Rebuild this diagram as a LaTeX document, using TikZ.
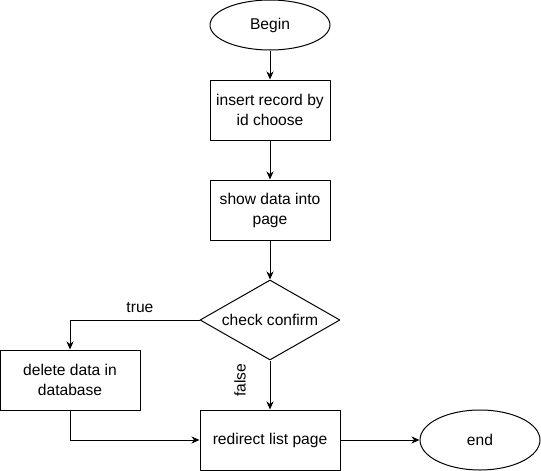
\documentclass[tikz,border=0pt]{standalone}
\usepackage{fontspec}
\setmainfont{Liberation Sans}
\usetikzlibrary{shapes.geometric,arrows.meta}
\begin{document}
\begin{tikzpicture}[x=1pt, y=-1pt, font=\fontsize{15.6pt}{20pt}\selectfont, line join=round, line width=1pt,
	>={Stealth[length=8pt,width=7pt,inset=2.5pt]},
	process/.style={draw, rectangle, minimum width=120pt, minimum height=60pt, align=center, inner sep=2pt},
	terminal/.style={draw, ellipse, minimum width=120pt, minimum height=50pt, inner sep=0pt},
	decision/.style={draw, diamond, aspect=1.75, minimum width=140pt, minimum height=80pt, inner sep=0pt}]
	\useasboundingbox (0,0) rectangle (541,471);
	\node[terminal] (begin) at (270,25) {Begin};
	\node[process] (ins) at (270,110) {insert record by\\id choose};
	\node[process] (show) at (270,210) {show data into\\page};
	\node[decision] (chk) at (270,320) {check confirm};
	\node[process, minimum width=140pt] (del) at (70,380) {delete data in\\database};
	\node[process, minimum width=140pt] (red) at (270,440) {redirect list page};
	\node[terminal, minimum height=60pt] (end) at (480,440) {end};

	\draw[->] (begin) -- (ins);
	\draw[->] (ins) -- (show);
	\draw[->] (show) -- (chk);
	\draw[->] (chk.west) -| node[pos=0.23, above=4pt] (ltrue) {true} (del.north);
	\draw[->] (chk.south) -- node[pos=0.4, rotate=90, yshift=30pt] (lfalse) {false} (red.north);
	\draw[->] (del.south) |- (red.west);
	\draw[->] (red) -- (end);
\end{tikzpicture}
\end{document}
